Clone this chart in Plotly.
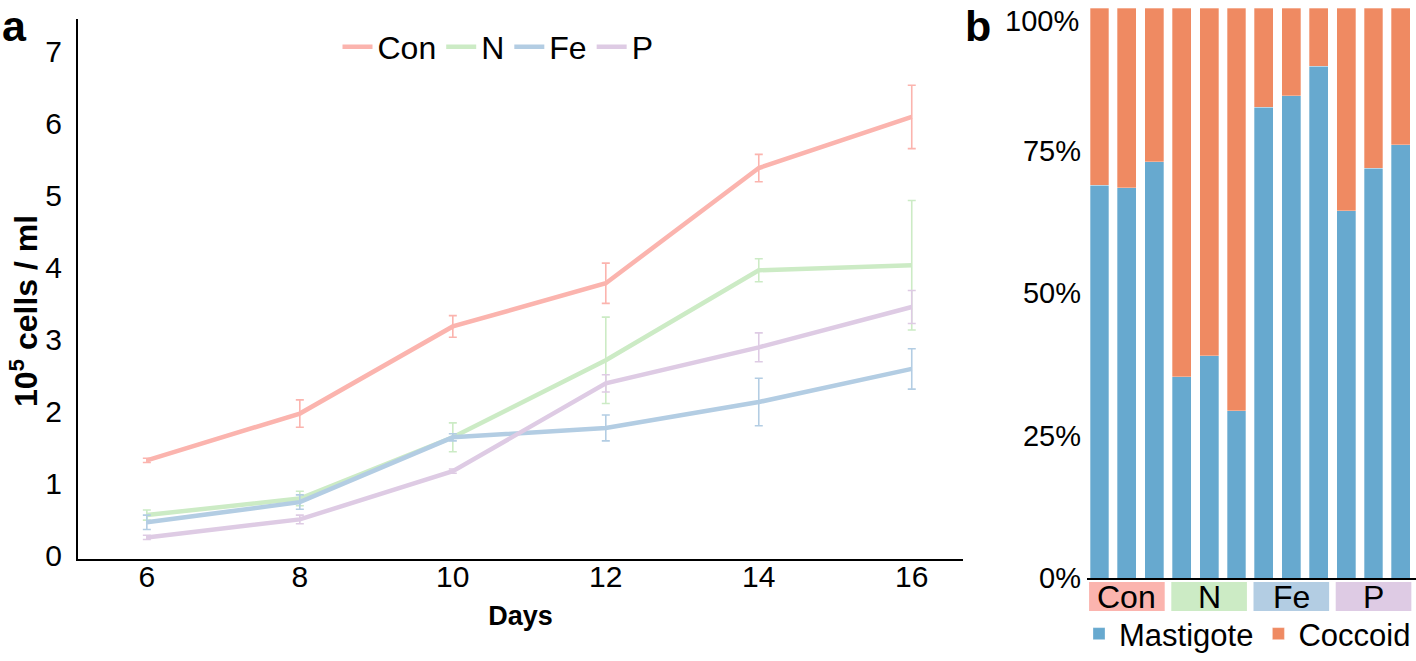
import plotly.graph_objects as go

# ---------------- data: panel a ----------------
days = [6, 8, 10, 12, 14, 16]
series_names = ["Con", "N", "Fe", "P"]
con_mean = [1.32, 1.97, 3.18, 3.78, 5.38, 6.09]
con_err = [0.03, 0.19, 0.15, 0.28, 0.19, 0.44]
n_mean = [0.56, 0.79, 1.64, 2.71, 3.96, 4.03]
n_err = [0.07, 0.10, 0.20, 0.60, 0.16, 0.90]
fe_mean = [0.46, 0.74, 1.64, 1.77, 2.13, 2.59]
fe_err = [0.10, 0.10, 0.05, 0.18, 0.33, 0.28]
p_mean = [0.25, 0.50, 1.17, 2.39, 2.89, 3.45]
p_err = [0.03, 0.06, 0.03, 0.12, 0.20, 0.23]
line_colors = ["#FBB4AE", "#CCEBC5", "#B3CDE3", "#DECBE4"]

# ---------------- data: panel b ----------------
groups = ["Con", "N", "Fe", "P"]
group_colors = ["#FBB4AE", "#CCEBC5", "#B3CDE3", "#DECBE4"]
replicates = list(range(12))
mastigote = [0.689, 0.685, 0.730, 0.353, 0.390, 0.293, 0.826, 0.846, 0.898, 0.644, 0.719, 0.760]
coccoid = [0.311, 0.315, 0.270, 0.647, 0.610, 0.707, 0.174, 0.154, 0.102, 0.356, 0.281, 0.240]
pct_ticks = [0, 0.25, 0.5, 0.75]
bar_colors = {"Mastigote": "#67A9CF", "Coccoid": "#EF8A62"}

FONT = "Arial, Liberation Sans, sans-serif"
W, H = 1416, 661

fig = go.Figure()

means = [con_mean, n_mean, fe_mean, p_mean]
errs = [con_err, n_err, fe_err, p_err]
for name, m, e, c in zip(series_names, means, errs, line_colors):
    fig.add_trace(go.Scatter(
        x=days, y=m, mode="lines", name=name,
        line=dict(color=c, width=4.5),
        error_y=dict(type="data", array=e, color=c, thickness=1.6, width=4, visible=True),
        xaxis="x", yaxis="y", legend="legend",
    ))

for name, vals in [("Mastigote", mastigote), ("Coccoid", coccoid)]:
    fig.add_trace(go.Bar(
        x=replicates, y=vals, name=name,
        marker=dict(color=bar_colors[name], line=dict(color="rgba(255,255,255,0.6)", width=0.5)),
        width=0.69, xaxis="x2", yaxis="y2", legend="legend2",
    ))

shapes = []
annotations = []
for i, (g, gc) in enumerate(zip(groups, group_colors)):
    x0 = replicates[3 * i] - 0.38
    x1 = replicates[3 * i + 2] + 0.38
    shapes.append(dict(type="rect", xref="x2", yref="paper", x0=x0, x1=x1,
                       y0=(H - 611) / H, y1=(H - 582) / H,
                       fillcolor=gc, line=dict(width=0), layer="below"))
    annotations.append(dict(xref="x2", yref="paper", x=(x0 + x1) / 2, y=(H - 597) / H,
                            text=g, showarrow=False, font=dict(size=32, color="black", family=FONT),
                            xanchor="center", yanchor="middle"))

annotations.append(dict(xref="paper", yref="paper", x=1081 / W, y=(H - 21) / H, text="100%",
                        showarrow=False, font=dict(size=29, color="black", family=FONT),
                        xanchor="right", yanchor="middle"))
# y-axis title of panel a (placed as in the original, slightly below the axis centre)
annotations.append(dict(xref="paper", yref="paper", x=24 / W, y=(H - 311) / H,
                        text="<b>10<sup>5</sup> cells / ml</b>", textangle=-90, showarrow=False,
                        font=dict(size=32, color="black", family=FONT),
                        xanchor="center", yanchor="middle"))
annotations.append(dict(xref="paper", yref="paper", x=0, y=1, text="<b>a</b>",
                        showarrow=False, font=dict(size=43, color="black", family=FONT),
                        xanchor="left", yanchor="top"))
annotations.append(dict(xref="paper", yref="paper", x=963 / W, y=1, text="<b>b</b>",
                        showarrow=False, font=dict(size=43, color="black", family=FONT),
                        xanchor="left", yanchor="top"))

fig.update_layout(
    width=W, height=H,
    margin=dict(l=0, r=0, t=0, b=0, autoexpand=False),
    paper_bgcolor="white", plot_bgcolor="white",
    font=dict(family=FONT, color="black", size=29),
    barmode="stack",
    xaxis=dict(domain=[78 / W, 963 / W], range=[5.1, 16.67], tickvals=days, automargin=False,
               showline=True, linecolor="black", linewidth=2, ticks="", ticklen=0, showgrid=False,
               zeroline=False, tickfont=dict(size=30), ticklabelstandoff=-10,
               title=dict(text="<b>Days</b>", font=dict(size=27), standoff=14)),
    yaxis=dict(domain=[(H - 559) / H, (H - 19) / H], range=[-0.05, 7.45], tickvals=list(range(8)),
               automargin=False,
               showline=True, linecolor="black", linewidth=2, ticks="", ticklen=0, showgrid=False,
               zeroline=False, tickfont=dict(size=30), ticklabelstandoff=8),
    xaxis2=dict(domain=[1087 / W, 1.0], range=[-0.456, 11.55], showticklabels=False, ticks="",
                automargin=False,
                showline=True, linecolor="black", linewidth=2, showgrid=False, zeroline=False,
                anchor="y2"),
    yaxis2=dict(domain=[(H - 578) / H, (H - 8) / H], range=[0, 1], tickvals=pct_ticks,
                automargin=False,
                tickformat=".0%", showline=False, ticks="", ticklen=0, showgrid=False, zeroline=False,
                tickfont=dict(size=29), anchor="x2", ticklabelstandoff=5),
    legend=dict(orientation="h", x=498 / W, y=(H - 47) / H, xanchor="center", yanchor="middle",
                font=dict(size=32), itemwidth=30, bgcolor="rgba(0,0,0,0)", traceorder="normal"),
    legend2=dict(orientation="h", x=1.0, y=0.0, xanchor="right", yanchor="bottom",
                 font=dict(size=31), itemwidth=30, bgcolor="rgba(0,0,0,0)", traceorder="normal"),
    shapes=shapes,
    annotations=annotations,
    showlegend=True,
)

fig.write_html("out.html", config={"displayModeBar": False},
               post_script="document.body.style.margin='0';document.body.style.overflow='hidden';")
